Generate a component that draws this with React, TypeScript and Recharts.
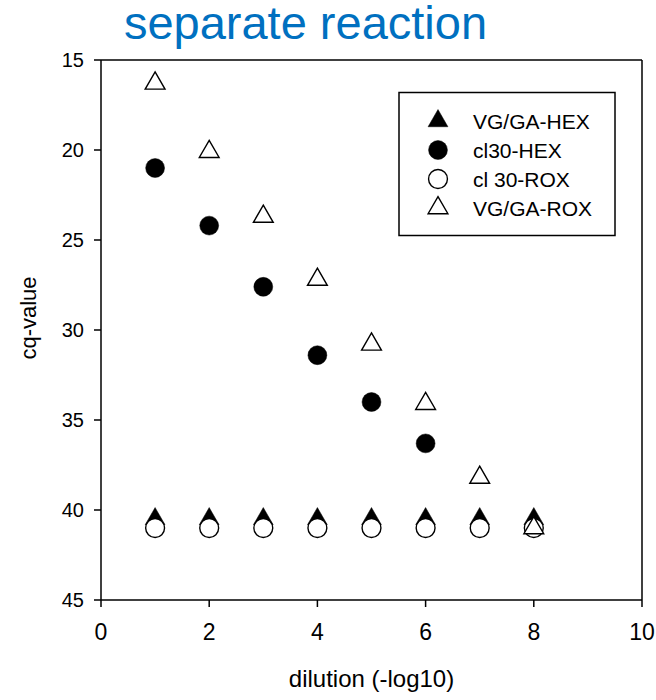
import { ReferenceLine, Scatter, ScatterChart, Symbols, XAxis, YAxis } from 'recharts';

const dilution = [1, 2, 3, 4, 5, 6, 7, 8];
const vgGaHex = [40.5, 40.5, 40.5, 40.5, 40.5, 40.5, 40.5, 40.5];
const cl30Hex = [21.0, 24.2, 27.6, 31.4, 34.0, 36.3];
const cl30Rox = [41.0, 41.0, 41.0, 41.0, 41.0, 41.0, 41.0, 41.0];
const vgGaRox = [16.3, 20.1, 23.7, 27.2, 30.8, 34.1, 38.2, 41.0];

const xTicks = [0, 2, 4, 6, 8, 10];
const yTicks = [15, 20, 25, 30, 35, 40, 45];

const FONT = '"Liberation Sans", Arial, sans-serif';

type SymbolType = 'triangle' | 'circle';

const series: { name: string; values: number[]; type: SymbolType; filled: boolean }[] = [
  { name: 'VG/GA-HEX', values: vgGaHex, type: 'triangle', filled: true },
  { name: 'cl30-HEX', values: cl30Hex, type: 'circle', filled: true },
  { name: 'cl 30-ROX', values: cl30Rox, type: 'circle', filled: false },
  { name: 'VG/GA-ROX', values: vgGaRox, type: 'triangle', filled: false },
];

const symbolSize = (type: SymbolType) => (type === 'circle' ? 280 : 170);

function Marker({ cx, cy, type, filled }: { cx: number; cy: number; type: SymbolType; filled: boolean }) {
  return (
    <Symbols
      cx={cx}
      cy={cy}
      type={type}
      size={symbolSize(type)}
      fill={filled ? '#000' : '#fff'}
      stroke="#000"
      strokeWidth={filled ? 0.5 : 1.4}
    />
  );
}

export default function App() {
  const tickStyle = { fill: '#000', fontFamily: FONT };
  return (
    <div style={{ position: 'absolute', left: 0, top: 0, width: 656, height: 700, background: '#fff' }}>
      <ScatterChart width={656} height={700} margin={{ top: 60, right: 14, bottom: 0, left: 0 }}>
        <XAxis
          type="number"
          dataKey="x"
          domain={[0, 10]}
          ticks={xTicks}
          height={100}
          stroke="#000"
          strokeWidth={1.5}
          tickSize={7}
          tickMargin={17}
          tick={{ ...tickStyle, fontSize: 23 }}
          label={{ value: 'dilution (-log10)', position: 'insideBottom', offset: 13, fill: '#000', fontSize: 24, fontFamily: FONT }}
        />
        <YAxis
          type="number"
          dataKey="y"
          domain={[15, 45]}
          ticks={yTicks}
          reversed
          width={101}
          stroke="#000"
          strokeWidth={1.5}
          tickSize={7}
          tickMargin={10}
          tick={{ ...tickStyle, fontSize: 20 }}
          label={{ value: 'cq-value', angle: -90, position: 'insideLeft', offset: 28, dy: -12, fill: '#000', fontSize: 22, fontFamily: FONT, style: { textAnchor: 'middle' } }}
        />
        <ReferenceLine y={15} stroke="#000" strokeWidth={1.5} />
        <ReferenceLine x={10} stroke="#000" strokeWidth={1.5} />
        {series.map(s => (
          <Scatter
            key={s.name}
            name={s.name}
            data={s.values.map((v, i) => ({ x: dilution[i], y: v }))}
            isAnimationActive={false}
            shape={(p: any) => <Marker cx={p.cx} cy={p.cy} type={s.type} filled={s.filled} />}
          />
        ))}
      </ScatterChart>
      <svg width={656} height={700} style={{ position: 'absolute', left: 0, top: 0, pointerEvents: 'none' }}>
        <text x={305.5} y={39} textAnchor="middle" fontSize={47} fill="#0070C0" fontFamily={FONT}>
          separate reaction
        </text>
        <rect x={399} y={92.5} width={216} height={143} fill="#fff" stroke="#000" strokeWidth={1.5} />
        {series.map((s, i) => {
          const cy = 121 + i * 29;
          return (
            <g key={s.name}>
              <Marker cx={438} cy={cy} type={s.type} filled={s.filled} />
              <text x={473} y={cy + 7.5} fontSize={21} fill="#000" fontFamily={FONT}>
                {s.name}
              </text>
            </g>
          );
        })}
      </svg>
    </div>
  );
}
